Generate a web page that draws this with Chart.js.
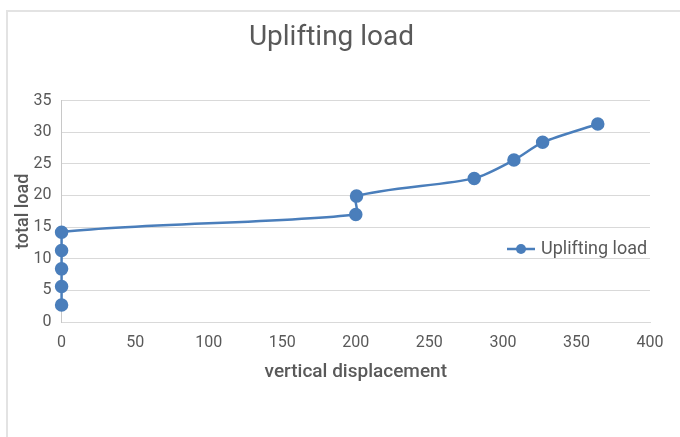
<!DOCTYPE html>
<html>
<head>
<meta charset="utf-8">
<script src="https://cdn.jsdelivr.net/npm/chart.js@4"></script>
<style>
   body { margin: 0; background: #fff; }
   #wrap { position: relative; width: 680px; height: 437px; }
   #frame { position: absolute; left: 6px; top: 10px; right: -4px; bottom: -4px; border-top: 2px solid #e3e3e3; border-left: 2px solid #e3e3e3; }
   #chart { position: absolute; left: 0; top: 0; }
</style>
</head>
<body>
<div id="wrap">
   <div id="frame"></div>
   <canvas id="chart" width="680" height="437"></canvas>
</div>
<script>
// data
const displacement = [0, 0, 0, 0, 0, 200, 200.5, 280.5, 307.5, 327, 364.5];
const totalLoad = [2.7, 5.6, 8.4, 11.3, 14.2, 17.0, 19.9, 22.7, 25.6, 28.4, 31.3];
const seriesName = "Uplifting load";

const blue = "#4a7ebb";
const textGray = "#595959";

const points = displacement.map((x, i) => ({ x: x, y: totalLoad[i] }));

// legend sits over the plot like in Excel, so draw it by hand
const floatingLegend = {
   id: "floatingLegend",
   afterDraw(chart) {
      const ctx = chart.ctx;
      const area = chart.chartArea;
      const y = area.bottom - 73;
      const x0 = area.right - 143;
      ctx.save();
      ctx.strokeStyle = blue;
      ctx.lineWidth = 2.5;
      ctx.beginPath();
      ctx.moveTo(x0, y);
      ctx.lineTo(x0 + 28, y);
      ctx.stroke();
      ctx.fillStyle = blue;
      ctx.beginPath();
      ctx.arc(x0 + 14, y, 5, 0, Math.PI * 2);
      ctx.fill();
      ctx.fillStyle = textGray;
      ctx.font = "18px Roboto";
      ctx.textBaseline = "middle";
      ctx.fillText(seriesName, x0 + 34, y);
      ctx.restore();
   }
};

new Chart(document.getElementById("chart").getContext("2d"), {
   type: "scatter",
   data: {
      datasets: [{
         label: seriesName,
         data: points,
         showLine: true,
         clip: false,
         borderColor: blue,
         backgroundColor: blue,
         borderWidth: 2.5,
         pointRadius: 5.5,
         pointHoverRadius: 5.5,
         tension: 0.25
      }]
   },
   options: {
      responsive: false,
      animation: false,
      layout: { padding: { left: 13, right: 30, top: 0, bottom: 49 } },
      plugins: {
         legend: { display: false },
         tooltip: { enabled: false },
         title: {
            display: true,
            text: "Uplifting load",
            color: textGray,
            font: { family: "Roboto", size: 28, weight: "normal" },
            padding: { top: 21, bottom: 46 }
         }
      },
      scales: {
         x: {
            type: "linear",
            min: 0,
            max: 400,
            ticks: { stepSize: 50, color: textGray, font: { family: "Roboto", size: 16 }, padding: 11 },
            grid: { display: false, drawTicks: false },
            border: { display: true, color: "#d9d9d9", width: 1 },
            title: { display: true, text: "vertical displacement", color: textGray, font: { family: "Roboto", size: 19, weight: "500" }, padding: { top: -2 } }
         },
         y: {
            min: 0,
            max: 35,
            ticks: { stepSize: 5, color: textGray, font: { family: "Roboto", size: 16 }, padding: 10 },
            grid: { color: "#d9d9d9", drawTicks: false },
            border: { display: true, color: "#c8c8c8", width: 1 },
            title: { display: true, text: "total load", color: textGray, font: { family: "Roboto", size: 18, weight: "500" }, padding: { top: 0, bottom: -11 } }
         }
      }
   },
   plugins: [floatingLegend]
});
</script>
</body>
</html>
